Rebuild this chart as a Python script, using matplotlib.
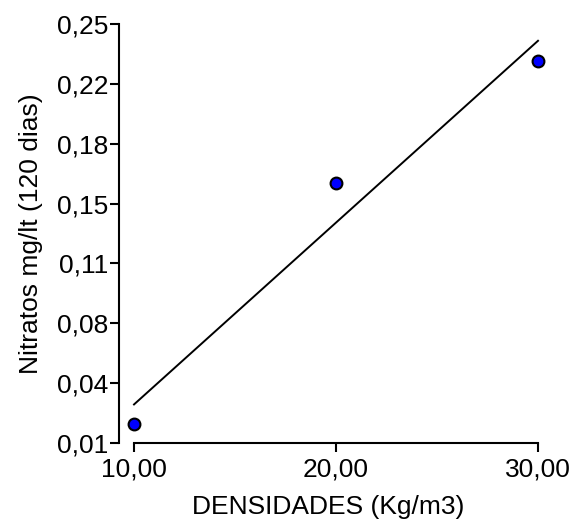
import matplotlib.pyplot as plt
import numpy as np

plt.rcParams['font.family'] = ['Liberation Sans', 'DejaVu Sans']

densidades = [10.0, 20.0, 30.0]
nitratos = [0.0207, 0.159, 0.229]
yticks = np.linspace(0.01, 0.25, 8)
xticks = [10, 20, 30]

fig = plt.figure(figsize=(5.74, 5.2), dpi=100)
ax = fig.add_axes([119 / 574, 77 / 520, (538 - 119) / 574, (443 - 24) / 520])

# regression line
m, b = np.polyfit(densidades, nitratos, 1)
xr = np.array([min(densidades), max(densidades)])
ax.plot(xr, m * xr + b, color='black', lw=1.4, clip_on=False)

ax.plot(densidades, nitratos, 'o', color='#0000ff', mec='black', mew=1.5,
        ms=8.5, clip_on=False, zorder=3)

ax.set_xlim(9.257, 30.0)
ax.set_ylim(0.01, 0.25)
ax.set_xticks(xticks)
ax.set_xticklabels([('%.2f' % v).replace('.', ',') for v in xticks])
ax.set_yticks(yticks)
ax.set_yticklabels([('%.2f' % v).replace('.', ',') for v in yticks])

for s in ['top', 'right']:
    ax.spines[s].set_visible(False)
for s in ['left', 'bottom']:
    ax.spines[s].set_linewidth(1.5)
ax.spines['bottom'].set_bounds(10, 30)
ax.spines['left'].set_bounds(0.01, 0.25)

ax.tick_params(axis='both', direction='out', length=6.5, width=1.5,
               labelsize=19, pad=1)
ax.tick_params(axis='x', pad=4)

ax.set_xlabel('DENSIDADES (Kg/m3)', fontsize=19, labelpad=10)
ax.set_ylabel('Nitratos mg/lt (120 dias)', fontsize=19, labelpad=10)

fig.savefig('out.png', dpi=100)
